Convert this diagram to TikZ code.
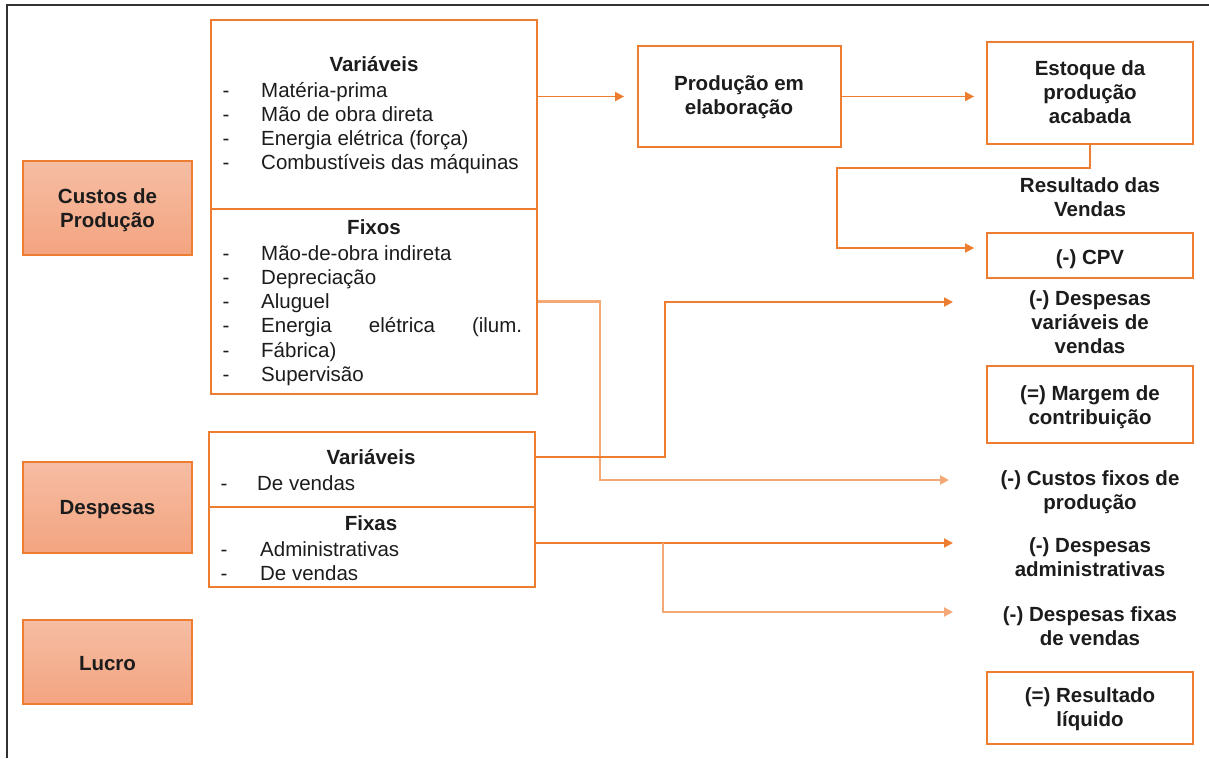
\documentclass[tikz,border=0pt]{standalone}
\usepackage{fontspec}
\setmainfont{Liberation Sans}
\usetikzlibrary{arrows.meta}
\definecolor{ora}{RGB}{237,125,49}
\definecolor{oral}{RGB}{244,168,118}
\definecolor{ftop}{RGB}{245,189,163}
\definecolor{fbot}{RGB}{244,164,128}
\definecolor{ink}{RGB}{28,28,28}
\definecolor{frm}{RGB}{50,50,50}
\tikzset{
  x=1pt, y=-1pt,
  obox/.style={draw=ora, line width=1.8pt, inner sep=0pt, fill=white},
  gbox/.style={draw=ora, line width=1.8pt, inner sep=0pt, top color=ftop, bottom color=fbot, minimum width=169pt},
  txt/.style={font=\fontsize{20.5}{24.3}\selectfont, text=ink, inner sep=0pt, align=center, anchor=base},
  btxt/.style={txt, font=\fontsize{20.5}{24.3}\selectfont\bfseries},
  ltxt/.style={txt, align=left, anchor=base west},
  arr/.style={draw=ora, line width=1.8pt, -{Triangle[length=9pt,width=9pt]}},
  arrl/.style={draw=oral, line width=2.2pt, -{Triangle[length=9pt,width=9pt]}},
}
\newcommand{\dsh}[1]{\makebox[38.5pt][l]{-}#1}
\begin{document}
\begin{tikzpicture}
\useasboundingbox (0,0) rectangle (1209,758);
% frame
\draw[frm, line width=2pt] (7,758) -- (7,5) -- (1209,5);

% left category boxes (text nodes: base = baseline of last line)
\node[gbox, minimum height=94pt] (cust) at (107.5,208) {};
\node[btxt] (custT) at (107.5,227.3) {Custos de\\Produção};
\node[gbox, minimum height=91pt] (desp) at (107.5,507.5) {};
\node[btxt] (despT) at (107.5,514) {Despesas};
\node[gbox, minimum height=84pt] (lucro) at (107.5,662) {};
\node[btxt] (lucroT) at (107.5,670) {Lucro};

% production cost boxes
\node[obox, minimum width=326pt, minimum height=189pt] (pvar) at (374,114.5) {};
\node[obox, minimum width=326pt, minimum height=185pt] (pfix) at (374,301.5) {};
\node[btxt] (pvarT) at (374,71) {Variáveis};
\node[ltxt] (pvarL) at (222.5,169.9) {\dsh{Matéria-prima}\\\dsh{Mão de obra direta}\\\dsh{Energia elétrica (força)}\\\dsh{Combustíveis das máquinas}};
\node[btxt] (pfixT) at (374,234) {Fixos};
\node[ltxt] (pfixL) at (222.5,381.5) {\dsh{Mão-de-obra indireta}\\\dsh{Depreciação}\\\dsh{Aluguel}\\\dsh{\makebox[261pt][l]{Energia\hfill elétrica\hfill (ilum.}}\\\dsh{Fábrica)}\\\dsh{Supervisão}};

% expense boxes
\node[obox, minimum width=326pt, minimum height=75pt] (dvar) at (372,469.5) {};
\node[obox, minimum width=326pt, minimum height=80pt] (dfix) at (372,547) {};
\node[btxt] (dvarT) at (371,464) {Variáveis};
\node[ltxt] (dvarL) at (220.5,490) {\makebox[36.5pt][l]{-}De vendas};
\node[btxt] (dfixT) at (371,530) {Fixas};
\node[ltxt] (dfixL) at (220.5,580.3) {\makebox[39.5pt][l]{-}Administrativas\\\makebox[39.5pt][l]{-}De vendas};

% flow boxes
\node[obox, minimum width=203pt, minimum height=101pt] (pel) at (739.5,96.5) {};
\node[btxt] (pelT) at (739,114.3) {Produção em\\elaboração};
\node[obox, minimum width=206pt, minimum height=102pt] (est) at (1090,93) {};
\node[btxt] (estT) at (1090,123.6) {Estoque da\\produção\\acabada};
\node[btxt] (rvT) at (1090,216.3) {Resultado das\\Vendas};
\node[obox, minimum width=206pt, minimum height=45pt] (cpv) at (1090,255.5) {};
\node[btxt] (cpvT) at (1090,264) {(-) CPV};
\node[btxt] (dvvT) at (1090,353.6) {(-) Despesas\\variáveis de\\vendas};
\node[obox, minimum width=206pt, minimum height=77pt] (marg) at (1090,404.5) {};
\node[btxt] (margT) at (1090,424.3) {(=) Margem de\\contribuição};
\node[btxt] (cfpT) at (1090,509.3) {(-) Custos fixos de\\produção};
\node[btxt] (daT) at (1090,576.3) {(-) Despesas\\administrativas};
\node[btxt] (dfvT) at (1090,645.3) {(-) Despesas fixas\\de vendas};
\node[obox, minimum width=206pt, minimum height=72pt] (res) at (1090,708) {};
\node[btxt] (resT) at (1090,726.3) {(=) Resultado\\líquido};

% arrow tips (free ends)
\coordinate (tdvv) at (953,302);
\coordinate (tcfp) at (949,480);
\coordinate (tda) at (953,543);
\coordinate (tdfv) at (953,612);
\coordinate (br) at (663,543);

% connectors
\draw[arr] (pvar.east |- pel.west) -- ([xshift=-13pt]pel.west);
\draw[arr] (pel.east) -- ([xshift=-12pt]pel.east -| est.west);
\draw[arr] (est.south) -- ++(0,23) -| ([xshift=-149pt,yshift=7.5pt]cpv.west) -- ([xshift=-12pt,yshift=7.5pt]cpv.west);
\draw[arrl] (pfix.east) -- ++(62,0) |- (tcfp);
\draw[arr] ([yshift=12.5pt]dvar.east) -- ++(129,0) |- (tdvv);
\draw[arr] ([yshift=4pt]dfix.east) -- (tda);
\draw[arrl] (br) |- (tdfv);
\end{tikzpicture}
\end{document}
